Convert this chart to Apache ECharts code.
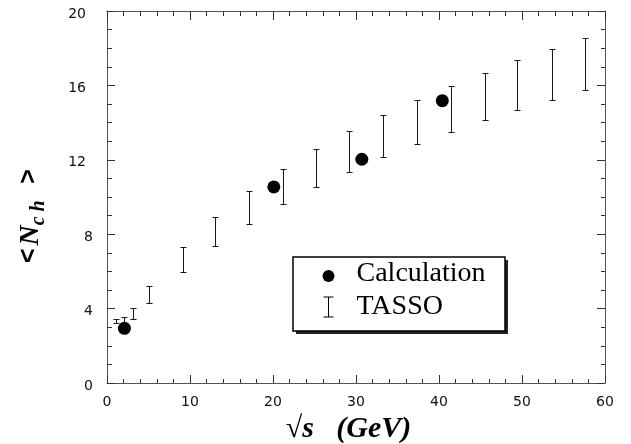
<!DOCTYPE html>
<html>
<head>
<meta charset="utf-8">
<script src="https://cdn.jsdelivr.net/npm/echarts@6/dist/echarts.min.js"></script>
<style>
  html, body { margin: 0; padding: 0; background: #fff; }
  #chart { width: 631px; height: 444px; }
</style>
</head>
<body>
<div id="chart"></div>
<script>
// Axis tick values
const xTicks = [0, 10, 20, 30, 40, 50, 60];
const yTicks = [0, 4, 8, 12, 16, 20];

// TASSO measurements: centre-of-mass energy and the low / high ends of each error bar
const tassoX    = [1.1, 2.0, 3.1, 5.1, 9.1, 13.0, 17.1, 21.2, 25.2, 29.2, 33.2, 37.3, 41.4, 45.5, 49.4, 53.6, 57.6];
const tassoLow  = [3.24, 3.15, 3.42, 4.30, 5.97, 7.38, 8.55, 9.61, 10.54, 11.36, 12.13, 12.83, 13.49, 14.12, 14.69, 15.23, 15.75];
const tassoHigh = [3.44, 3.55, 4.05, 5.23, 7.30, 8.91, 10.32, 11.52, 12.58, 13.53, 14.42, 15.23, 15.98, 16.68, 17.35, 17.96, 18.56];

// Model calculation
const calcX = [2.1, 20.1, 30.7, 40.4];
const calcY = [2.94, 10.54, 12.03, 15.18];

const tassoData = tassoX.map((x, i) => [x, tassoLow[i], tassoHigh[i]]);
const calcData = calcX.map((x, i) => [x, calcY[i]]);

const INK = '#1a1a1a';
const FRAME = '#555';
const tickFont = { fontFamily: 'DejaVu Sans', fontSize: 14, color: '#111' };

function frameAxis(extra) {
  return Object.assign({
    type: 'value',
    axisLine: { show: true, onZero: false, lineStyle: { color: FRAME, width: 1 } },
    axisTick: { show: true, inside: true, length: 8, lineStyle: { color: '#333', width: 1 } },
    minorTick: { show: true, length: 4, lineStyle: { color: '#333', width: 1 } },
    splitLine: { show: false },
    minorSplitLine: { show: false }
  }, extra);
}

const xRange = { min: xTicks[0], max: xTicks[xTicks.length - 1], interval: xTicks[1] - xTicks[0] };
const yRange = { min: yTicks[0], max: yTicks[yTicks.length - 1], interval: yTicks[1] - yTicks[0] };

// Legend glyphs share one 46x20 box so both rows line up
const dotIcon = 'path://M0,0M46,20M29,12A6,6,0,1,1,17,12A6,6,0,1,1,29,12Z';
const barIcon = 'path://M0,0M46,20M18,0L28,0M23,0L23,20M18,20L28,20';

const chart = echarts.init(document.getElementById('chart'), null, { renderer: 'canvas' });

chart.setOption({
  animation: false,
  backgroundColor: '#fff',
  grid: { left: 107, right: 26, top: 11, bottom: 61, containLabel: false, outerBoundsMode: 'none' },
  // Legend frame with its offset drop shadow
  graphic: [
    { type: 'rect', z: 1, silent: true, shape: { x: 296, y: 260, width: 212, height: 74 }, style: { fill: '#222' } },
    { type: 'rect', z: 1, silent: true, shape: { x: 293, y: 257, width: 212, height: 74 }, style: { fill: '#fff', stroke: '#000', lineWidth: 1.5 } }
  ],
  xAxis: [
    frameAxis(Object.assign({}, xRange, {
      position: 'bottom',
      minorTick: { show: true, splitNumber: 5, length: 4, lineStyle: { color: '#333', width: 1 } },
      axisLabel: Object.assign({ margin: 12 }, tickFont),
      name: '{r|√}{b|s   (GeV)}',
      nameLocation: 'middle',
      nameGap: 29,
      nameTextStyle: {
        padding: [0, 15, 0, 0],
        rich: {
          r: { fontFamily: 'Liberation Serif', fontSize: 30, color: '#000' },
          b: { fontFamily: 'Liberation Serif', fontSize: 30, fontWeight: 'bold', fontStyle: 'italic', color: '#000' }
        }
      }
    })),
    frameAxis(Object.assign({}, xRange, {
      position: 'top',
      axisTick: { show: true, inside: true, length: 9, lineStyle: { color: '#333', width: 1 } },
      minorTick: { show: true, splitNumber: 5, length: 5, lineStyle: { color: '#333', width: 1 } },
      axisLabel: { show: false }
    }))
  ],
  yAxis: [
    frameAxis(Object.assign({}, yRange, {
      position: 'left',
      minorTick: { show: true, splitNumber: 4, length: 5, lineStyle: { color: '#333', width: 1 } },
      axisLabel: {
        margin: 14,
        formatter: v => (v >= 10 ? '{w|' + v + '}' : '{n|' + v + '}'),
        rich: {
          w: Object.assign({ padding: [6, 7, 0, 0] }, tickFont),
          n: Object.assign({ padding: [6, 0, 0, 0] }, tickFont)
        }
      },
      name: '{a|<}{g| }{n|N}{s|c h}{G|   }{a|>}',
      nameLocation: 'middle',
      nameGap: 58,
      nameTextStyle: {
        padding: [0, 38, 0, 0],
        rich: {
          a: { fontFamily: 'Liberation Sans', fontSize: 25, fontWeight: 'bold', color: '#000', lineHeight: 32, verticalAlign: 'top' },
          g: { fontFamily: 'Liberation Sans', fontSize: 10, color: '#000', lineHeight: 32, verticalAlign: 'top' },
          G: { fontFamily: 'Liberation Sans', fontSize: 20, color: '#000', lineHeight: 32, verticalAlign: 'top' },
          n: { fontFamily: 'Liberation Serif', fontSize: 28, fontWeight: 'bold', fontStyle: 'italic', color: '#000', lineHeight: 30, verticalAlign: 'top' },
          s: { fontFamily: 'Liberation Serif', fontSize: 20, fontWeight: 'bold', fontStyle: 'italic', color: '#000', lineHeight: 17, verticalAlign: 'bottom' }
        }
      }
    })),
    frameAxis(Object.assign({}, yRange, {
      position: 'right',
      minorTick: { show: true, splitNumber: 4, length: 4, lineStyle: { color: '#333', width: 1 } },
      axisLabel: { show: false }
    }))
  ],
  legend: {
    orient: 'vertical',
    left: 303,
    top: 260,
    z: 5,
    padding: 0,
    itemWidth: 46,
    itemHeight: 20,
    itemGap: 5,
    selectedMode: false,
    textStyle: { fontFamily: 'Liberation Serif', fontSize: 28, color: '#000', lineHeight: 20 },
    data: [
      { name: 'Calculation', icon: dotIcon, itemStyle: { color: '#000', borderWidth: 0, opacity: 1 } },
      { name: 'TASSO', icon: barIcon, itemStyle: { color: 'none', borderColor: '#000', borderWidth: 1 } }
    ]
  },
  series: [
    {
      name: 'TASSO',
      type: 'custom',
      xAxisIndex: 0,
      yAxisIndex: 0,
      data: tassoData,
      encode: { x: 0, y: [1, 2] },
      z: 2,
      itemStyle: { color: '#000' },
      renderItem: function (params, api) {
        const x = api.value(0);
        const top = api.coord([x, api.value(2)]);
        const bot = api.coord([x, api.value(1)]);
        const cx = Math.round(top[0]) + 0.5;
        const yt = Math.round(top[1]) + 0.5;
        const yb = Math.round(bot[1]) + 0.5;
        const hw = 3;
        const st = { stroke: INK, lineWidth: 1 };
        return {
          type: 'group',
          children: [
            { type: 'line', shape: { x1: cx, y1: yt, x2: cx, y2: yb }, style: st },
            { type: 'line', shape: { x1: cx - hw, y1: yt, x2: cx + hw, y2: yt }, style: st },
            { type: 'line', shape: { x1: cx - hw, y1: yb, x2: cx + hw, y2: yb }, style: st }
          ]
        };
      }
    },
    {
      name: 'Calculation',
      type: 'scatter',
      xAxisIndex: 0,
      yAxisIndex: 0,
      data: calcData,
      symbol: 'circle',
      symbolSize: 13,
      z: 3,
      itemStyle: { color: '#000', opacity: 1 }
    }
  ]
});
</script>
</body>
</html>
